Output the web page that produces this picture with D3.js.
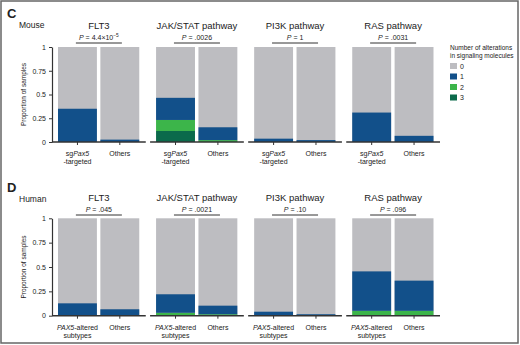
<!DOCTYPE html>
<html>
<head>
<meta charset="utf-8">
<script src="https://cdn.jsdelivr.net/npm/d3@7"></script>
<style>
  body { margin: 0; background: #fff; }
  text { font-family: "Liberation Sans", Arial, sans-serif; fill: #222; }
</style>
</head>
<body>
<div id="chart-area"></div>
<script>
// pathways (one group of two bars each)
var groups = ["FLT3", "JAK/STAT pathway", "PI3K pathway", "RAS pathway"]
var yTicks = [0, 0.25, 0.5, 0.75, 1]
var levels = ["0", "1", "2", "3"]

// mouse: proportion of samples with 1 / 2 / 3 alterations, bars in order [sgPax5, Others] per group
var mouseAlt1 = [0.35, 0.025, 0.233, 0.135, 0.035, 0.02, 0.31, 0.065]
var mouseAlt2 = [0, 0, 0.116, 0.02, 0, 0, 0, 0]
var mouseAlt3 = [0, 0, 0.116, 0, 0, 0, 0, 0]
var mouseP = ["4.4×10", ".0026", "1", ".0031"]
var mousePexp = ["−5", "", "", ""]

// human
var humanAlt1 = [0.127, 0.066, 0.19, 0.088, 0.041, 0.015, 0.405, 0.31]
var humanAlt2 = [0, 0, 0.03, 0.015, 0, 0, 0.05, 0.05]
var humanAlt3 = [0, 0, 0, 0, 0, 0, 0, 0]
var humanP = [".045", ".0021", ".10", ".096"]
var humanPexp = ["", "", "", ""]

var cw = 520, ch = 345
var colors = {"0": "#bdbdc1", "1": "#12508a", "2": "#3cb54a", "3": "#0b6a4b"}
var small = "7px"

var svg = d3.select("#chart-area").append("svg")
    .attr("width", cw)
    .attr("height", ch)

svg.append("rect")
    .attr("x", 1).attr("y", 1)
    .attr("width", cw - 3).attr("height", ch - 3)
    .attr("fill", "none")
    .attr("stroke", "#666")
    .attr("stroke-width", 1.5)

var x = d3.scaleBand()
    .domain(groups)
    .range([52, 440])
    .paddingInner(0.044)

var xInner = d3.scaleBand()
    .domain([0, 1])
    .range([6, x.bandwidth() - 6.5])
    .paddingInner(0.082)

function drawPanel(cfg) {
    var y = d3.scaleLinear().domain([0, 1]).range([cfg.y0, cfg.y1])
    var g = svg.append("g")

    g.append("text")
        .attr("x", 7).attr("y", cfg.letterY)
        .attr("font-size", "13px").attr("font-weight", "bold")
        .text(cfg.letter)

    g.append("text")
        .attr("x", 19).attr("y", cfg.speciesY)
        .attr("font-size", "8.5px")
        .text(cfg.species)

    // y axis
    var leftAxis = d3.axisLeft(y)
        .tickValues(yTicks)
        .tickFormat(d => d)
        .tickSize(3)
        .tickSizeOuter(0)
    var ya = g.append("g")
        .attr("transform", "translate(52,0)")
        .call(leftAxis)
    ya.select(".domain").attr("stroke", "#333").attr("stroke-width", 1.2)
    ya.selectAll(".tick line").attr("stroke", "#333")
    ya.selectAll(".tick text")
        .attr("font-size", small)
        .attr("font-family", "Liberation Sans, Arial, sans-serif")
        .attr("fill", "#333")
        .attr("x", -6)

    g.append("text")
        .attr("transform", "translate(26," + ((cfg.y0 + cfg.y1) / 2) + ") rotate(-90)")
        .attr("text-anchor", "middle")
        .attr("font-size", "6.5px")
        .text("Proportion of samples")

    groups.forEach(function(grp, gi) {
        var gx = x(grp)
        var cx = gx + x.bandwidth() / 2

        g.append("text")
            .attr("x", cx).attr("y", cfg.titleY)
            .attr("text-anchor", "middle")
            .attr("font-size", "9.5px")
            .text(grp)

        var pt = g.append("text")
            .attr("x", cx).attr("y", cfg.titleY + 10.5)
            .attr("text-anchor", "middle")
            .attr("font-size", small)
        pt.append("tspan").attr("font-style", "italic").text("P")
        pt.append("tspan").text(" = " + cfg.p[gi])
        if (cfg.pexp[gi]) {
            pt.append("tspan").attr("dy", -3).attr("font-size", "4.8px").text(cfg.pexp[gi])
        }

        g.append("line")
            .attr("x1", cx - 23).attr("x2", cx + 23)
            .attr("y1", cfg.titleY + 14).attr("y2", cfg.titleY + 14)
            .attr("stroke", "#333").attr("stroke-width", 1)

        ;[0, 1].forEach(function(bi) {
            var k = gi * 2 + bi
            var bx = gx + xInner(bi)
            var bw = xInner.bandwidth()
            var stackVals = [["3", cfg.alt3[k]], ["2", cfg.alt2[k]], ["1", cfg.alt1[k]]]

            g.append("rect")
                .attr("x", bx).attr("width", bw)
                .attr("y", y(1)).attr("height", y(0) - y(1))
                .attr("fill", colors["0"])

            var base = 0
            stackVals.forEach(function(s) {
                if (s[1] > 0) {
                    g.append("rect")
                        .attr("x", bx).attr("width", bw)
                        .attr("y", y(base + s[1]))
                        .attr("height", y(base) - y(base + s[1]))
                        .attr("fill", colors[s[0]])
                }
                base += s[1]
            })

            var tx = bx + bw / 2
            g.append("line")
                .attr("x1", tx).attr("x2", tx)
                .attr("y1", cfg.y0).attr("y2", cfg.y0 + 3)
                .attr("stroke", "#333").attr("stroke-width", 1)

            var lab = g.append("text")
                .attr("x", tx).attr("y", cfg.y0 + 14)
                .attr("text-anchor", "middle")
                .attr("font-size", small)
                .attr("fill", "#333")
            if (bi === 1) {
                lab.text("Others")
            } else {
                cfg.label1(lab)
                g.append("text")
                    .attr("x", tx).attr("y", cfg.y0 + 22)
                    .attr("text-anchor", "middle")
                    .attr("font-size", small)
                    .attr("fill", "#333")
                    .text(cfg.label2)
            }
        })

        // baseline segment for the group
        g.append("line")
            .attr("x1", gx).attr("x2", gx + x.bandwidth())
            .attr("y1", cfg.y0).attr("y2", cfg.y0)
            .attr("stroke", "#333").attr("stroke-width", 1.5)
    })
}

drawPanel({
    letter: "C", letterY: 18, species: "Mouse", speciesY: 28,
    y0: 142, y1: 47, titleY: 29,
    alt1: mouseAlt1, alt2: mouseAlt2, alt3: mouseAlt3,
    p: mouseP, pexp: mousePexp,
    label1: function(t) {
        t.append("tspan").text("sg")
        t.append("tspan").attr("font-style", "italic").text("Pax5")
    },
    label2: "-targeted"
})

drawPanel({
    letter: "D", letterY: 192, species: "Human", speciesY: 202,
    y0: 315.7, y1: 218.3, titleY: 201,
    alt1: humanAlt1, alt2: humanAlt2, alt3: humanAlt3,
    p: humanP, pexp: humanPexp,
    label1: function(t) {
        t.append("tspan").attr("font-style", "italic").text("PAX5")
        t.append("tspan").text("-altered")
    },
    label2: "subtypes"
})

// legend
var legendFont = "6.5px"
var legend = svg.append("g").attr("transform", "translate(450, 0)")
legend.append("text").attr("x", 0).attr("y", 50).attr("font-size", legendFont)
    .text("Number of alterations")
legend.append("text").attr("x", 0).attr("y", 57.5).attr("font-size", legendFont)
    .text("in signaling molecules")

var items = legend.selectAll(".legend-item")
    .data(levels)
    .enter()
    .append("g")
    .attr("class", "legend-item")
    .attr("transform", (d, i) => "translate(0," + (63 + i * 10.5) + ")")

items.append("rect")
    .attr("width", 7).attr("height", 6)
    .attr("fill", d => colors[d])

items.append("text")
    .attr("x", 10).attr("y", 5.5)
    .attr("font-size", small)
    .text(d => d)
</script>
</body>
</html>
